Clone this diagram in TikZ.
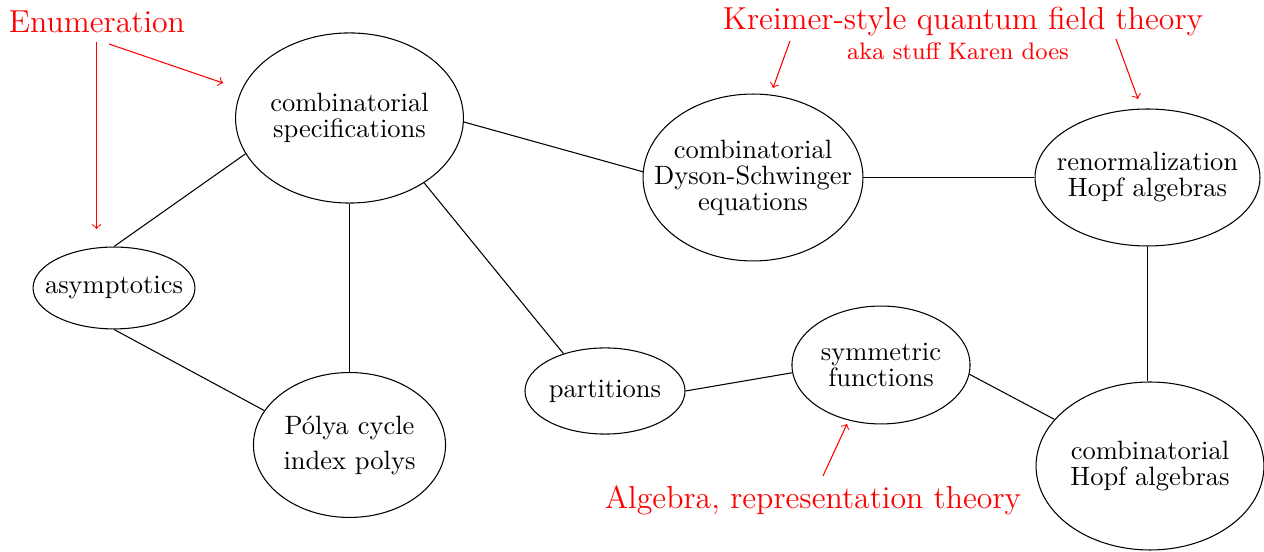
\documentclass[tikz,border=0pt]{standalone}
\usetikzlibrary{shapes.geometric}
\begin{document}
\begin{tikzpicture}[x=0.3774pt,y=-0.3774pt,
  el/.style={draw,ellipse,inner xsep=-12pt,inner ysep=-6pt,align=center},
  lab/.style={text=red,inner sep=0pt},
  redarrow/.style={red,->},
  link/.style={draw,black}]
\useasboundingbox (0,0) rectangle (1264,552);
% main nodes
\node[el,minimum width=86pt,minimum height=64.2pt] (spec) at (349.5,118) {combinatorial\\[-2.2pt]specifications};
\node[el,minimum width=61.1pt,minimum height=30.9pt] (asym) at (114,288) {asymptotics};
\node[el,minimum width=72.5pt,minimum height=54.7pt] (polya) at (349.5,445) {P\'olya cycle\\[1.2pt]index polys};
\node[el,minimum width=60.4pt,minimum height=32.5pt] (part) at (605,391) {partitions};
\node[el,minimum width=83pt,minimum height=63pt] (ds) at (753,177.5) {combinatorial\\[-2.2pt]Dyson-Schwinger\\[-2.2pt]equations};
\node[el,minimum width=84.9pt,minimum height=51.7pt] (ren) at (1147.5,177.5) {renormalization\\[-2.2pt]Hopf algebras};
\node[el,minimum width=67.2pt,minimum height=44.5pt] (sym) at (881,365) {symmetric\\[-2.2pt]functions};
\node[el,minimum width=86pt,minimum height=63.4pt] (hopf) at (1150,466) {combinatorial\\[-2.2pt]Hopf algebras};
% labels
\node[lab,font=\large] (enum) at (97,22) {Enumeration};
\node[lab,font=\large] (kreimer) at (963,22) {Kreimer-style quantum field theory};
\node[lab,font=\small] (aka) at (958,51) {aka stuff Karen does};
\node[lab,font=\large] (alg) at (813,500) {Algebra, representation theory};
% connectors
\path[link] (spec.199) -- (asym.north);
\path[link] (spec.south) -- (polya.north);
\path[link] (spec.319) -- (part.138);
\path[link] (spec.-2.5) -- (ds.177);
\path[link] (ds.east) -- (ren.west);
\path[link] (ren.south) -- (ren.south |- hopf.north);
\path[link] (asym.south) -- (polya.158);
\path[link] (part.east) -- (sym.185);
\path[link] (sym.-6) -- (hopf.154);
% red arrows
\coordinate (e1s) at (96.5,42);
\coordinate (e1e) at (96.5,229);
\coordinate (e2s) at (109,44);
\coordinate (e2e) at (223,83);
\coordinate (k1s) at (790,41);
\coordinate (k1e) at (773,88);
\coordinate (k2s) at (1116,39);
\coordinate (k2e) at (1138,99);
\coordinate (a1s) at (823,476);
\coordinate (a1e) at (847,424);
\draw[redarrow] (e1s) -- (e1e);
\draw[redarrow] (e2s) -- (e2e);
\draw[redarrow] (k1s) -- (k1e);
\draw[redarrow] (k2s) -- (k2e);
\draw[redarrow] (a1s) -- (a1e);
\end{tikzpicture}
\end{document}
